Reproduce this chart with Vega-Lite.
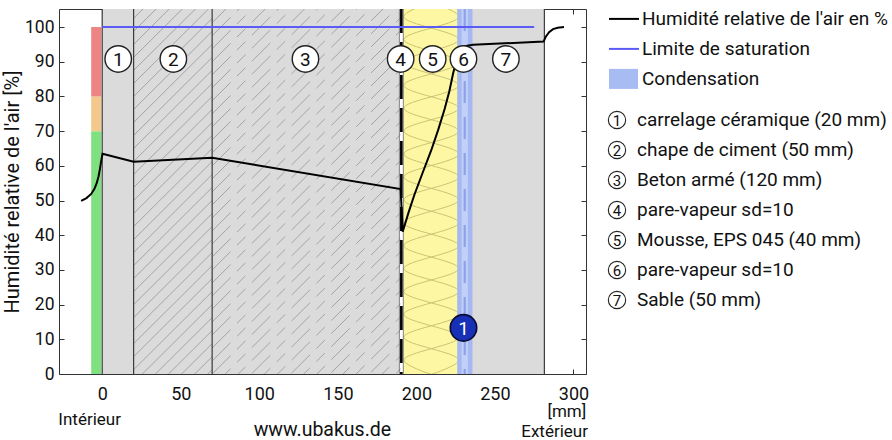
{
  "$schema": "https://vega.github.io/schema/vega-lite/v6.json",
  "padding": {"left": 2, "top": 7, "right": 0, "bottom": 0},
  "background": "white",
  "config": {"font": "Roboto", "view": {"stroke": null}},
  "spacing": 12,
  "hconcat": [
    {
      "width": 527,
      "height": 365,
      "resolve": {"axis": {"x": "independent", "y": "independent"}, "scale": {"fill": "independent", "stroke": "independent"}},
      "layer": [
        {
          "data": {"values": [
            {"mat": "carrelage", "x0": 0, "x1": 20},
            {"mat": "chape", "x0": 20, "x1": 70},
            {"mat": "beton", "x0": 70, "x1": 190},
            {"mat": "pv4", "x0": 189.2, "x1": 191.7},
            {"mat": "eps", "x0": 191.7, "x1": 229},
            {"mat": "pv6", "x0": 229, "x1": 233},
            {"mat": "sable", "x0": 233, "x1": 281.5}
          ]},
          "mark": {"type": "rect"},
          "encoding": {
            "x": {"field": "x0", "type": "quantitative", "scale": {"domain": [-27.5, 308], "nice": false, "zero": false},
              "axis": {"orient": "bottom", "values": [0, 50, 100, 150, 200, 250, 300], "title": null, "grid": false, "tickSize": -5, "labelPadding": 16, "labelFontSize": 18, "labelColor": "#111", "tickColor": "#333", "domainColor": "#333", "labelFlush": false}},
            "x2": {"field": "x1"},
            "y": {"datum": 0, "type": "quantitative", "scale": {"domain": [0, 105.2], "nice": false, "zero": false},
              "axis": {"orient": "left", "values": [0, 10, 20, 30, 40, 50, 60, 70, 80, 90, 100], "title": "Humidité relative de l'air [%]", "titleFontSize": 20, "titleFontWeight": "normal", "titleColor": "#111", "titlePadding": 2, "grid": false, "tickSize": -5, "labelPadding": 10, "labelFontSize": 17.5, "labelColor": "#111", "tickColor": "#333", "domainColor": "#333"}},
            "y2": {"datum": 105.2},
            "fill": {"field": "mat", "type": "nominal", "legend": null,
              "scale": {"domain": ["carrelage", "chape", "beton", "pv4", "eps", "pv6", "sable"], "range": ["#dbdbdb", "#dbdbdb", "#dbdbdb", "#ffffff", "#fdf7a3", "#ffffff", "#dbdbdb"]}}
          }
        },
        {
          "data": {"values": [
            {"zone": "ok", "lo": 0, "hi": 70},
            {"zone": "warn", "lo": 70, "hi": 80},
            {"zone": "bad", "lo": 80, "hi": 100}
          ]},
          "mark": {"type": "rect"},
          "encoding": {
            "x": {"datum": -7, "type": "quantitative", "scale": {"domain": [-27.5, 308], "nice": false, "zero": false}, "axis": null},
            "x2": {"datum": -0.6},
            "y": {"field": "lo", "type": "quantitative", "scale": {"domain": [0, 105.2], "nice": false, "zero": false}, "axis": null},
            "y2": {"field": "hi"},
            "fill": {"field": "zone", "type": "nominal", "legend": null, "scale": {"domain": ["ok", "warn", "bad"], "range": ["#7ee07e", "#f2c98a", "#ee8383"]}}
          }
        },
        {
          "data": {"values": [
            {"a": -21.25, "b": 1.25}, {"a": -17.5, "b": 5}, {"a": -13.75, "b": 8.75}, {"a": -10, "b": 12.5}, {"a": -6.25, "b": 16.25}, {"a": -2.5, "b": 20},
            {"a": 1.25, "b": 23.75}, {"a": 5, "b": 27.5}, {"a": 8.75, "b": 31.25}, {"a": 12.5, "b": 35}, {"a": 16.25, "b": 38.75}, {"a": 20, "b": 42.5},
            {"a": 23.75, "b": 46.25}, {"a": 27.5, "b": 50}, {"a": 31.25, "b": 53.75}, {"a": 35, "b": 57.5}, {"a": 38.75, "b": 61.25}, {"a": 42.5, "b": 65},
            {"a": 46.25, "b": 68.75}, {"a": 50, "b": 72.5}, {"a": 53.75, "b": 76.25}, {"a": 57.5, "b": 80}, {"a": 61.25, "b": 83.75}, {"a": 65, "b": 87.5},
            {"a": 68.75, "b": 91.25}, {"a": 72.5, "b": 95}, {"a": 76.25, "b": 98.75}, {"a": 80, "b": 102.5}, {"a": 83.75, "b": 106.25}, {"a": 87.5, "b": 110},
            {"a": 91.25, "b": 113.75}, {"a": 95, "b": 117.5}, {"a": 98.75, "b": 121.25}, {"a": 102.5, "b": 125}
          ]},
          "mark": {"type": "rule", "clip": true, "color": "#959595", "strokeWidth": 0.8},
          "encoding": {
            "x": {"datum": 20, "type": "quantitative", "scale": {"domain": [-27.5, 308], "nice": false, "zero": false}, "axis": null},
            "x2": {"datum": 70},
            "y": {"field": "a", "type": "quantitative", "scale": {"domain": [0, 105.2], "nice": false, "zero": false}, "axis": null},
            "y2": {"field": "b"}
          }
        },
        {
          "data": {"values": [
            {"a": -52.5, "b": 1.5}, {"a": -48.75, "b": 5.25}, {"a": -45, "b": 9}, {"a": -41.25, "b": 12.75}, {"a": -37.5, "b": 16.5}, {"a": -33.75, "b": 20.25},
            {"a": -30, "b": 24}, {"a": -26.25, "b": 27.75}, {"a": -22.5, "b": 31.5}, {"a": -18.75, "b": 35.25}, {"a": -15, "b": 39}, {"a": -11.25, "b": 42.75},
            {"a": -7.5, "b": 46.5}, {"a": -3.75, "b": 50.25}, {"a": 0, "b": 54}, {"a": 3.75, "b": 57.75}, {"a": 7.5, "b": 61.5}, {"a": 11.25, "b": 65.25},
            {"a": 15, "b": 69}, {"a": 18.75, "b": 72.75}, {"a": 22.5, "b": 76.5}, {"a": 26.25, "b": 80.25}, {"a": 30, "b": 84}, {"a": 33.75, "b": 87.75},
            {"a": 37.5, "b": 91.5}, {"a": 41.25, "b": 95.25}, {"a": 45, "b": 99}, {"a": 48.75, "b": 102.75}, {"a": 52.5, "b": 106.5}, {"a": 56.25, "b": 110.25},
            {"a": 60, "b": 114}, {"a": 63.75, "b": 117.75}, {"a": 67.5, "b": 121.5}, {"a": 71.25, "b": 125.25}, {"a": 75, "b": 129}, {"a": 78.75, "b": 132.75},
            {"a": 82.5, "b": 136.5}, {"a": 86.25, "b": 140.25}, {"a": 90, "b": 144}, {"a": 93.75, "b": 147.75}, {"a": 97.5, "b": 151.5}, {"a": 101.25, "b": 155.25}
          ]},
          "mark": {"type": "rule", "clip": true, "color": "#959595", "strokeWidth": 0.8, "strokeDash": [26, 9, 12, 9]},
          "encoding": {
            "x": {"datum": 70, "type": "quantitative", "scale": {"domain": [-27.5, 308], "nice": false, "zero": false}, "axis": null},
            "x2": {"datum": 190},
            "y": {"field": "a", "type": "quantitative", "scale": {"domain": [0, 105.2], "nice": false, "zero": false}, "axis": null},
            "y2": {"field": "b"}
          }
        },
        {
          "data": {"values": [
            {"zz": "A", "i": 0, "x": 192, "y": -2.6}, {"zz": "A", "i": 1, "x": 227, "y": 4}, {"zz": "A", "i": 2, "x": 192, "y": 10.6}, {"zz": "A", "i": 3, "x": 227, "y": 17.2},
            {"zz": "A", "i": 4, "x": 192, "y": 23.8}, {"zz": "A", "i": 5, "x": 227, "y": 30.4}, {"zz": "A", "i": 6, "x": 192, "y": 37}, {"zz": "A", "i": 7, "x": 227, "y": 43.6},
            {"zz": "A", "i": 8, "x": 192, "y": 50.2}, {"zz": "A", "i": 9, "x": 227, "y": 56.8}, {"zz": "A", "i": 10, "x": 192, "y": 63.4}, {"zz": "A", "i": 11, "x": 227, "y": 70},
            {"zz": "A", "i": 12, "x": 192, "y": 76.6}, {"zz": "A", "i": 13, "x": 227, "y": 83.2}, {"zz": "A", "i": 14, "x": 192, "y": 89.8}, {"zz": "A", "i": 15, "x": 227, "y": 96.4},
            {"zz": "A", "i": 16, "x": 192, "y": 103}, {"zz": "A", "i": 17, "x": 227, "y": 109.6},
            {"zz": "B", "i": 0, "x": 227, "y": -2.6}, {"zz": "B", "i": 1, "x": 192, "y": 4}, {"zz": "B", "i": 2, "x": 227, "y": 10.6}, {"zz": "B", "i": 3, "x": 192, "y": 17.2},
            {"zz": "B", "i": 4, "x": 227, "y": 23.8}, {"zz": "B", "i": 5, "x": 192, "y": 30.4}, {"zz": "B", "i": 6, "x": 227, "y": 37}, {"zz": "B", "i": 7, "x": 192, "y": 43.6},
            {"zz": "B", "i": 8, "x": 227, "y": 50.2}, {"zz": "B", "i": 9, "x": 192, "y": 56.8}, {"zz": "B", "i": 10, "x": 227, "y": 63.4}, {"zz": "B", "i": 11, "x": 192, "y": 70},
            {"zz": "B", "i": 12, "x": 227, "y": 76.6}, {"zz": "B", "i": 13, "x": 192, "y": 83.2}, {"zz": "B", "i": 14, "x": 227, "y": 89.8}, {"zz": "B", "i": 15, "x": 192, "y": 96.4},
            {"zz": "B", "i": 16, "x": 227, "y": 103}, {"zz": "B", "i": 17, "x": 192, "y": 109.6}
          ]},
          "mark": {"type": "line", "clip": true, "interpolate": "cardinal", "color": "#c4bd72", "strokeWidth": 0.9},
          "encoding": {
            "x": {"field": "x", "type": "quantitative", "scale": {"domain": [-27.5, 308], "nice": false, "zero": false}, "axis": null},
            "y": {"field": "y", "type": "quantitative", "scale": {"domain": [0, 105.2], "nice": false, "zero": false}, "axis": null},
            "detail": {"field": "zz"},
            "order": {"field": "i"}
          }
        },
        {
          "data": {"values": [
            {"part": "cond", "x0": 226, "x1": 235.7},
            {"part": "pv6", "x0": 228.8, "x1": 232.8}
          ]},
          "mark": {"type": "rect"},
          "encoding": {
            "x": {"field": "x0", "type": "quantitative", "scale": {"domain": [-27.5, 308], "nice": false, "zero": false}, "axis": null},
            "x2": {"field": "x1"},
            "y": {"datum": 0, "type": "quantitative", "scale": {"domain": [0, 105.2], "nice": false, "zero": false}, "axis": null},
            "y2": {"datum": 105.2},
            "fill": {"field": "part", "type": "nominal", "legend": null, "scale": {"domain": ["cond", "pv6"], "range": ["#a5b8f2", "#c2cff7"]}}
          }
        },
        {
          "data": {"values": [{"x": 230.8}]},
          "mark": {"type": "rule", "color": "#8ea2e8", "strokeWidth": 2.2, "strokeDash": [22, 14]},
          "encoding": {
            "x": {"field": "x", "type": "quantitative", "scale": {"domain": [-27.5, 308], "nice": false, "zero": false}, "axis": null}
          }
        },
        {
          "data": {"values": [{"x": 0}, {"x": 20}, {"x": 70}, {"x": 281.5}]},
          "mark": {"type": "rule", "color": "#3a3a3a", "strokeWidth": 1.2},
          "encoding": {
            "x": {"field": "x", "type": "quantitative", "scale": {"domain": [-27.5, 308], "nice": false, "zero": false}, "axis": null}
          }
        },
        {
          "data": {"values": [{"x": 189.2}, {"x": 191.7}]},
          "mark": {"type": "rule", "color": "#666666", "strokeWidth": 0.8},
          "encoding": {
            "x": {"field": "x", "type": "quantitative", "scale": {"domain": [-27.5, 308], "nice": false, "zero": false}, "axis": null}
          }
        },
        {
          "data": {"values": [{"x": 190.45}]},
          "mark": {"type": "rule", "color": "#000000", "strokeWidth": 2.6, "strokeDash": [24, 9]},
          "encoding": {
            "x": {"field": "x", "type": "quantitative", "scale": {"domain": [-27.5, 308], "nice": false, "zero": false}, "axis": null}
          }
        },
        {
          "data": {"values": [{"x": 0, "y": 100}, {"x": 275, "y": 100}]},
          "mark": {"type": "line", "color": "#5b5bf5", "strokeWidth": 2},
          "encoding": {
            "x": {"field": "x", "type": "quantitative", "scale": {"domain": [-27.5, 308], "nice": false, "zero": false},
              "axis": {"orient": "top", "values": [0, 50, 100, 150, 200, 250, 300], "labels": false, "title": null, "grid": false, "tickSize": -5, "tickColor": "#333", "domainColor": "#333"}},
            "y": {"field": "y", "type": "quantitative", "scale": {"domain": [0, 105.2], "nice": false, "zero": false},
              "axis": {"orient": "right", "values": [0, 10, 20, 30, 40, 50, 60, 70, 80, 90, 100], "labels": false, "title": null, "grid": false, "tickSize": -5, "tickColor": "#333", "domainColor": "#333"}}
          }
        },
        {
          "data": {"values": [
            {"x": -13.4, "y": 49.9}, {"x": -10, "y": 50.7}, {"x": -7, "y": 51.9}, {"x": -5, "y": 53.3}, {"x": -3.5, "y": 55}, {"x": -2.3, "y": 57},
            {"x": -1.4, "y": 59.2}, {"x": -0.6, "y": 61.5}, {"x": 0.2, "y": 63.5}, {"x": 20, "y": 61.2}, {"x": 70, "y": 62.3}, {"x": 190, "y": 53.3},
            {"x": 191.3, "y": 41}, {"x": 195, "y": 46.5}, {"x": 198.7, "y": 51.6}, {"x": 204, "y": 58}, {"x": 209.5, "y": 64.5}, {"x": 214, "y": 70.5},
            {"x": 218, "y": 76.4}, {"x": 221, "y": 81.5}, {"x": 223.5, "y": 86.8}, {"x": 226, "y": 91.2}, {"x": 227.8, "y": 93.3}, {"x": 230, "y": 94.4},
            {"x": 236, "y": 94.9}, {"x": 281, "y": 95.8}, {"x": 282.5, "y": 97.3}, {"x": 284.5, "y": 98.5}, {"x": 287, "y": 99.4}, {"x": 290, "y": 99.8},
            {"x": 294, "y": 100}
          ]},
          "mark": {"type": "line", "color": "#000000", "strokeWidth": 2},
          "encoding": {
            "x": {"field": "x", "type": "quantitative", "scale": {"domain": [-27.5, 308], "nice": false, "zero": false}, "axis": null},
            "y": {"field": "y", "type": "quantitative", "scale": {"domain": [0, 105.2], "nice": false, "zero": false}, "axis": null}
          }
        },
        {
          "data": {"values": [
            {"n": "1", "x": 10.2}, {"n": "2", "x": 45.3}, {"n": "3", "x": 129.4}, {"n": "4", "x": 190},
            {"n": "5", "x": 210.4}, {"n": "6", "x": 230}, {"n": "7", "x": 257}
          ]},
          "encoding": {
            "x": {"field": "x", "type": "quantitative", "scale": {"domain": [-27.5, 308], "nice": false, "zero": false}, "axis": null},
            "y": {"datum": 90.8, "type": "quantitative", "scale": {"domain": [0, 105.2], "nice": false, "zero": false}, "axis": null}
          },
          "layer": [
            {"mark": {"type": "point", "shape": "circle", "filled": true, "fill": "#ffffff", "stroke": "#222222", "strokeWidth": 1.4, "size": 700, "opacity": 1}},
            {"mark": {"type": "text", "fontSize": 19, "color": "#111111", "baseline": "middle", "dy": 1}, "encoding": {"text": {"field": "n"}}}
          ]
        },
        {
          "data": {"values": [{"n": "1", "x": 230, "y": 13.3}]},
          "encoding": {
            "x": {"field": "x", "type": "quantitative", "scale": {"domain": [-27.5, 308], "nice": false, "zero": false}, "axis": null},
            "y": {"field": "y", "type": "quantitative", "scale": {"domain": [0, 105.2], "nice": false, "zero": false}, "axis": null}
          },
          "layer": [
            {"mark": {"type": "point", "shape": "circle", "filled": true, "fill": "#1730b5", "stroke": "#0a0a30", "strokeWidth": 1.6, "size": 700, "opacity": 1}},
            {"mark": {"type": "text", "fontSize": 19, "color": "#ffffff", "baseline": "middle", "dy": 1}, "encoding": {"text": {"field": "n"}}}
          ]
        },
        {
          "data": {"values": [
            {"t": "Intérieur", "x": -8, "y": -13.3, "s": "n"},
            {"t": "[mm]", "x": 295.8, "y": -11, "s": "n"},
            {"t": "Extérieur", "x": 288, "y": -16.8, "s": "n"}
          ]},
          "mark": {"type": "text", "fontSize": 17, "color": "#111111", "baseline": "middle"},
          "encoding": {
            "x": {"field": "x", "type": "quantitative", "scale": {"domain": [-27.5, 308], "nice": false, "zero": false}, "axis": null},
            "y": {"field": "y", "type": "quantitative", "scale": {"domain": [0, 105.2], "nice": false, "zero": false}, "axis": null},
            "text": {"field": "t"}
          }
        },
        {
          "data": {"values": [{"t": "www.ubakus.de", "x": 140.2, "y": -16.1}]},
          "mark": {"type": "text", "fontSize": 19.5, "color": "#111111", "baseline": "middle"},
          "encoding": {
            "x": {"field": "x", "type": "quantitative", "scale": {"domain": [-27.5, 308], "nice": false, "zero": false}, "axis": null},
            "y": {"field": "y", "type": "quantitative", "scale": {"domain": [0, 105.2], "nice": false, "zero": false}, "axis": null},
            "text": {"field": "t"}
          }
        }
      ]
    },
    {
      "spacing": 10,
      "vconcat": [
        {
          "width": 290,
          "height": 90,
          "data": {"values": [
            {"o": 1, "k": "hum", "t": "Humidité relative de l'air en %"},
            {"o": 2, "k": "sat", "t": "Limite de saturation"},
            {"o": 3, "k": "cond", "t": "Condensation"}
          ]},
          "layer": [
            {
              "transform": [{"filter": "datum.k != 'cond'"}],
              "mark": {"type": "rule", "strokeWidth": 2},
              "encoding": {
                "x": {"datum": 8, "type": "quantitative", "scale": {"domain": [0, 290], "nice": false, "zero": false}, "axis": null},
                "x2": {"datum": 38},
                "y": {"field": "o", "type": "quantitative", "scale": {"domain": [0.67, 3.67], "reverse": true, "nice": false, "zero": false}, "axis": null},
                "stroke": {"field": "k", "type": "nominal", "legend": null, "scale": {"domain": ["hum", "sat"], "range": ["#000000", "#5b5bf5"]}}
              }
            },
            {
              "transform": [{"filter": "datum.k == 'cond'"}],
              "mark": {"type": "point", "filled": true, "shape": "M-1,-0.69L1,-0.69L1,0.69L-1,0.69Z", "size": 841, "color": "#a8bcf4", "opacity": 1},
              "encoding": {
                "x": {"datum": 22.5, "type": "quantitative", "scale": {"domain": [0, 290], "nice": false, "zero": false}, "axis": null},
                "y": {"field": "o", "type": "quantitative", "scale": {"domain": [0.67, 3.67], "reverse": true, "nice": false, "zero": false}, "axis": null}
              }
            },
            {
              "mark": {"type": "text", "align": "left", "baseline": "middle", "fontSize": 19, "color": "#111111"},
              "encoding": {
                "x": {"datum": 41, "type": "quantitative", "scale": {"domain": [0, 290], "nice": false, "zero": false}, "axis": null},
                "y": {"field": "o", "type": "quantitative", "scale": {"domain": [0.67, 3.67], "reverse": true, "nice": false, "zero": false}, "axis": null},
                "text": {"field": "t"}
              }
            }
          ]
        },
        {
          "width": 290,
          "height": 210,
          "data": {"values": [
            {"o": 1, "n": "1", "t": "carrelage céramique (20 mm)"},
            {"o": 2, "n": "2", "t": "chape de ciment (50 mm)"},
            {"o": 3, "n": "3", "t": "Beton armé (120 mm)"},
            {"o": 4, "n": "4", "t": "pare-vapeur sd=10"},
            {"o": 5, "n": "5", "t": "Mousse, EPS 045 (40 mm)"},
            {"o": 6, "n": "6", "t": "pare-vapeur sd=10"},
            {"o": 7, "n": "7", "t": "Sable (50 mm)"}
          ]},
          "encoding": {
            "y": {"field": "o", "type": "quantitative", "scale": {"domain": [0.7, 7.7], "reverse": true, "nice": false, "zero": false}, "axis": null}
          },
          "layer": [
            {
              "mark": {"type": "point", "shape": "circle", "filled": true, "fill": "#ffffff", "stroke": "#222222", "strokeWidth": 1.1, "size": 300, "opacity": 1},
              "encoding": {"x": {"datum": 16, "type": "quantitative", "scale": {"domain": [0, 290], "nice": false, "zero": false}, "axis": null}}
            },
            {
              "mark": {"type": "text", "align": "center", "baseline": "middle", "fontSize": 15, "color": "#111111", "dy": 1},
              "encoding": {"x": {"datum": 16, "type": "quantitative", "scale": {"domain": [0, 290], "nice": false, "zero": false}, "axis": null}, "text": {"field": "n"}}
            },
            {
              "mark": {"type": "text", "align": "left", "baseline": "middle", "fontSize": 19, "color": "#111111"},
              "encoding": {"x": {"datum": 36, "type": "quantitative", "scale": {"domain": [0, 290], "nice": false, "zero": false}, "axis": null}, "text": {"field": "t"}}
            }
          ]
        }
      ]
    }
  ]
}
